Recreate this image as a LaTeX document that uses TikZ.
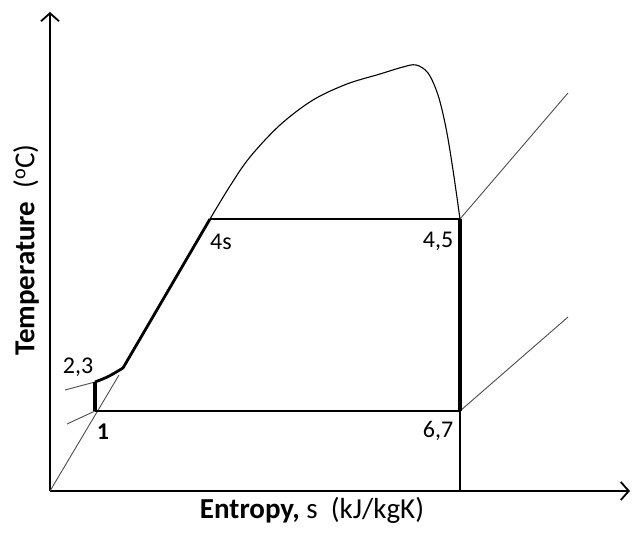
\documentclass[tikz,border=0pt]{standalone}
\usepackage{fontspec}
\setmainfont{Carlito}
\usetikzlibrary{arrows.meta}
\begin{document}
\begin{tikzpicture}[x=1pt,y=-1pt,
  axis/.style={line width=1.6pt, -{Straight Barb[length=8pt,width=18pt,line width=1.8pt]}},
  thinline/.style={line width=0.9pt, black!70},
  domeline/.style={line width=1.1pt, black},
  cyclev/.style={line width=3.2pt},
  cycleh/.style={line width=2.2pt},
  lbl/.style={font=\fontsize{24}{26}\selectfont, inner sep=0pt},
  axlbl/.style={font=\fontsize{29}{31}\selectfont, inner sep=0pt}]
\useasboundingbox (0,0) rectangle (634,534);
% key points
\coordinate (O) at (50,491);
\coordinate (Ytip) at (50,12);
\coordinate (Xtip) at (630,491);
\coordinate (p23) at (95,382);
\coordinate (p1) at (95,411);
\coordinate (pk) at (123,368);
\coordinate (p4s) at (210,219);
\coordinate (p45) at (460,219);
\coordinate (p67) at (460,411);
\coordinate (pxb) at (460,491);
\coordinate (sh1) at (568,93);
\coordinate (sh2) at (568,317);
\coordinate (ll1) at (65,390);
\coordinate (ll2) at (67,424);
\coordinate (lq) at (119,375);
% axes
\draw[axis] (O) -- (Ytip);
\draw[axis] (O) -- (Xtip);
% thin lines
\draw[thinline] (O) -- (lq);
\draw[thinline] (ll1) -- (p23);
\draw[thinline] (ll2) -- (p1);
\draw[thinline] (p45) -- (sh1);
\draw[thinline] (p67) -- (sh2);
\draw[domeline] (p67) -- (pxb);
% dome
\draw[domeline] plot[smooth, tension=0.55] coordinates {(210,219) (230,186) (250,157) (280,125) (313,100) (347,84) (380,74) (403,67) (416,65) (428,73) (438,95) (446,128) (453,170) (460,219)};
% cycle
\draw[cyclev] (p1) -- (p23);
\draw[cyclev, line width=2.8pt] (p23) .. controls (108,377) .. (pk) -- (p4s);
\draw[cycleh] (p4s) -- (p45);
\draw[cyclev, line width=3.6pt] (p45) -- (p67);
\draw[cycleh] (p67) -- (p1);
% labels
\node[lbl] (l23) at (78,367) {2,3};
\node[lbl, font=\fontsize{24}{26}\selectfont\bfseries] (l1) at (103,432) {1};
\node[lbl] (l4s) at (221,242) {4s};
\node[lbl] (l45) at (438,241) {4,5};
\node[lbl] (l67) at (438,431) {6,7};
\node[axlbl] (xl) at (312,510) {\textbf{Entropy,} s\ \ (kJ/kgK)};
\node[axlbl, rotate=90] (yl) at (26,250) {\textbf{Temperature}\ \ (\textsuperscript{o}C)};
\end{tikzpicture}
\end{document}
